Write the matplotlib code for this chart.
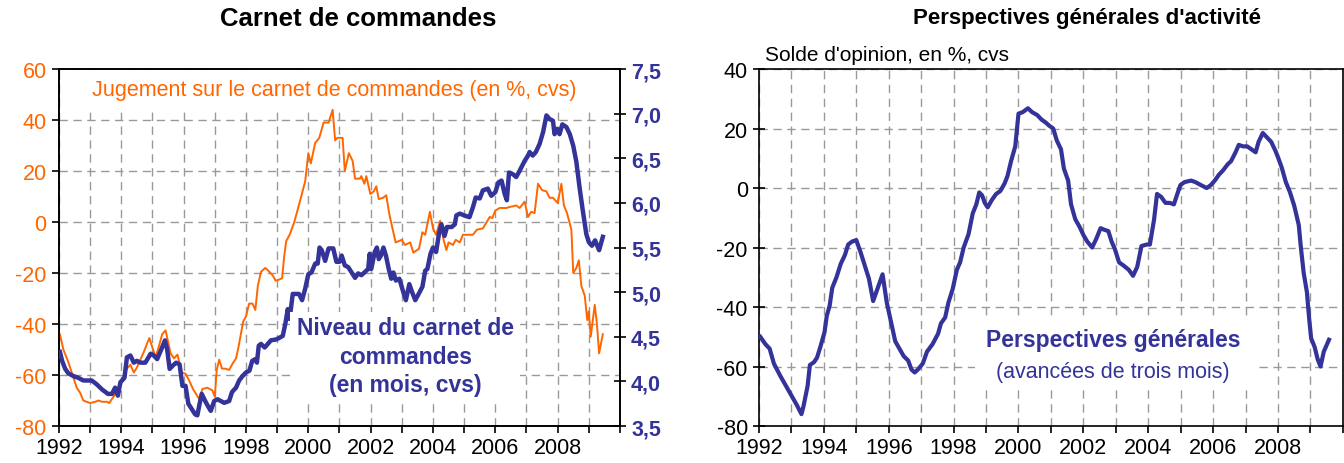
import matplotlib
matplotlib.use('Agg')
from matplotlib import pyplot as plt
from matplotlib.patches import Rectangle
from matplotlib.ticker import MultipleLocator, FuncFormatter

plt.rcParams['font.family'] = ['Liberation Sans', 'DejaVu Sans']
plt.rcParams['axes.unicode_minus'] = False

ORANGE = '#FF6600'
BLEU = '#333399'

# Jugement sur le carnet de commandes (en %, cvs) - axe gauche
dates_jugement = [
    1992.03, 1992.14, 1992.30, 1992.46, 1992.57, 1992.68, 1992.78, 1993.00, 1993.16, 1993.27,
    1993.38, 1993.54, 1993.61, 1993.75, 1993.91, 1994.02, 1994.18, 1994.29, 1994.40, 1994.50,
    1994.61, 1994.72, 1994.83, 1994.90, 1994.99, 1995.10, 1995.20, 1995.31, 1995.42, 1995.50,
    1995.58, 1995.69, 1995.80, 1995.94, 1996.06, 1996.17, 1996.30, 1996.40, 1996.50, 1996.60,
    1996.76, 1996.92, 1997.00, 1997.06, 1997.14, 1997.23, 1997.33, 1997.46, 1997.57, 1997.68,
    1997.76, 1997.85, 1997.91, 1998.00, 1998.10, 1998.21, 1998.30, 1998.38, 1998.48, 1998.62,
    1998.75, 1998.86, 1998.95, 1999.08, 1999.16, 1999.22, 1999.29, 1999.40, 1999.55, 1999.75,
    1999.90, 2000.00, 2000.08, 2000.22, 2000.35, 2000.49, 2000.65, 2000.78, 2000.86, 2000.93,
    2001.10, 2001.17, 2001.30, 2001.42, 2001.50, 2001.65, 2001.70, 2001.80, 2001.86, 2001.99,
    2002.10, 2002.18, 2002.26, 2002.40, 2002.50, 2002.60, 2002.70, 2002.80, 2003.00, 2003.10,
    2003.27, 2003.37, 2003.55, 2003.66, 2003.75, 2003.90, 2004.00, 2004.10, 2004.23, 2004.34,
    2004.43, 2004.50, 2004.64, 2004.73, 2004.86, 2004.96, 2005.28, 2005.41, 2005.60, 2005.70,
    2005.82, 2005.90, 2006.00, 2006.14, 2006.35, 2006.50, 2006.67, 2006.78, 2006.94, 2007.05,
    2007.15, 2007.26, 2007.37, 2007.50, 2007.64, 2007.74, 2007.85, 2008.00, 2008.12, 2008.20,
    2008.30, 2008.44, 2008.50, 2008.60, 2008.68, 2008.76, 2008.87, 2008.95, 2009.00, 2009.06,
    2009.19, 2009.26, 2009.33, 2009.45,
]
jugement = [
    -44, -50, -55, -61, -65, -67, -70, -71, -70.5, -70,
    -70.5, -70.5, -71, -68.5, -65.5, -62, -57.5, -56, -59, -57,
    -54, -51, -47.5, -45.5, -49, -53, -49, -44, -42.5, -47,
    -51.5, -53.5, -52, -59, -59.5, -62, -65.5, -67.5, -69.5, -65.5,
    -65, -66, -68.5, -58, -54, -57.5, -57.5, -58, -55.5, -53.5,
    -49, -43, -39, -37, -32, -32, -34.5, -25, -19.5, -18,
    -19.5, -21, -23, -22.5, -22, -14, -7.5, -5, 0, 9,
    16, 27, 23, 31, 33, 39, 39, 44, 32, 33,
    33, 20, 27, 24, 17, 17, 18, 15, 18, 11,
    12, 14, 9, 9.5, 10.5, 3, -2.5, -8, -7, -9,
    -8, -12, -10.5, -4, -5, 4, -2.5, -5, 0.5, -7,
    -11, -8, -9, -7, -8, -5, -5, -3, -2.5, -0.5,
    2, 1.5, 4.5, 5.5, 5.5, 6, 6.5, 5.5, 8, 2,
    4, 3.5, 15, 12.5, 12, 9.5, 9.5, 7.5, 15, 6.5,
    3.5, -3, -20, -18, -15, -25, -29, -38.5, -35, -45,
    -32.5, -40, -51.5, -44,
]

# Niveau du carnet de commandes (en mois, cvs) - axe droit
dates_niveau = [
    1992.03, 1992.10, 1992.20, 1992.30, 1992.46, 1992.62, 1992.78, 1993.05, 1993.20, 1993.38,
    1993.57, 1993.70, 1993.80, 1993.89, 1993.97, 1994.10, 1994.18, 1994.29, 1994.40, 1994.50,
    1994.61, 1994.77, 1994.94, 1995.04, 1995.15, 1995.26, 1995.40, 1995.47, 1995.55, 1995.66,
    1995.76, 1995.87, 1995.96, 1996.06, 1996.15, 1996.26, 1996.37, 1996.44, 1996.50, 1996.58,
    1996.69, 1996.80, 1996.87, 1996.98, 1997.09, 1997.19, 1997.30, 1997.46, 1997.55, 1997.68,
    1997.78, 1997.89, 1998.00, 1998.11, 1998.20, 1998.30, 1998.35, 1998.41, 1998.48, 1998.60,
    1998.70, 1998.80, 1998.97, 1999.08, 1999.18, 1999.27, 1999.34, 1999.40, 1999.50, 1999.60,
    1999.70, 1999.80, 1999.90, 2000.00, 2000.10, 2000.22, 2000.30, 2000.36, 2000.43, 2000.54,
    2000.65, 2000.80, 2000.90, 2001.00, 2001.07, 2001.17, 2001.28, 2001.39, 2001.50, 2001.60,
    2001.70, 2001.80, 2001.92, 2001.97, 2002.02, 2002.13, 2002.20, 2002.26, 2002.33, 2002.41,
    2002.49, 2002.58, 2002.66, 2002.73, 2002.81, 2002.92, 2003.03, 2003.13, 2003.24, 2003.33,
    2003.43, 2003.54, 2003.66, 2003.75, 2003.82, 2003.92, 2004.00, 2004.10, 2004.19, 2004.27,
    2004.37, 2004.45, 2004.60, 2004.70, 2004.75, 2004.86, 2005.00, 2005.17, 2005.28, 2005.37,
    2005.50, 2005.60, 2005.76, 2005.87, 2006.00, 2006.10, 2006.20, 2006.30, 2006.37, 2006.44,
    2006.57, 2006.67, 2006.78, 2006.94, 2007.05, 2007.10, 2007.20, 2007.30, 2007.42, 2007.53,
    2007.64, 2007.74, 2007.85, 2007.90, 2007.98, 2008.06, 2008.15, 2008.28, 2008.39, 2008.50,
    2008.60, 2008.70, 2008.80, 2008.92, 2009.00, 2009.10, 2009.20, 2009.33, 2009.45,
]
niveau = [
    4.33, 4.23, 4.14, 4.09, 4.06, 4.04, 4.01, 4.01, 3.97, 3.91,
    3.86, 3.86, 3.93, 3.84, 3.99, 4.04, 4.27, 4.29, 4.21, 4.23,
    4.21, 4.21, 4.31, 4.29, 4.25, 4.34, 4.46, 4.36, 4.14, 4.18,
    4.21, 4.19, 3.95, 3.95, 3.75, 3.69, 3.63, 3.62, 3.73, 3.86,
    3.78, 3.71, 3.67, 3.78, 3.80, 3.78, 3.76, 3.78, 3.88, 3.93,
    4.01, 4.06, 4.10, 4.12, 4.23, 4.25, 4.21, 4.40, 4.42, 4.38,
    4.42, 4.46, 4.47, 4.49, 4.51, 4.66, 4.81, 4.70, 4.98, 4.98,
    4.98, 4.91, 5.04, 5.20, 5.22, 5.32, 5.32, 5.50, 5.47, 5.35,
    5.49, 5.49, 5.34, 5.34, 5.41, 5.30, 5.28, 5.22, 5.16, 5.21,
    5.19, 5.22, 5.26, 5.43, 5.26, 5.45, 5.50, 5.37, 5.41, 5.50,
    5.41, 5.26, 5.15, 5.22, 5.13, 5.15, 5.02, 4.91, 5.09, 5.00,
    4.91, 4.98, 5.06, 5.24, 5.26, 5.43, 5.50, 5.45, 5.65, 5.76,
    5.63, 5.73, 5.73, 5.76, 5.86, 5.88, 5.86, 5.84, 5.95, 6.06,
    6.05, 6.14, 6.16, 6.08, 6.12, 6.23, 6.25, 6.10, 6.03, 6.34,
    6.32, 6.29, 6.36, 6.47, 6.53, 6.57, 6.53, 6.57, 6.66, 6.79,
    6.98, 6.94, 6.92, 6.77, 6.83, 6.77, 6.88, 6.85, 6.77, 6.64,
    6.46, 6.18, 5.93, 5.65, 5.56, 5.52, 5.58, 5.47, 5.62,
]

# Perspectives générales d'activité (solde d'opinion, en %, cvs)
dates_perspectives = [
    1992.04, 1992.20, 1992.33, 1992.46, 1992.65, 1992.78, 1992.91, 1993.04, 1993.17, 1993.31,
    1993.37, 1993.50, 1993.57, 1993.70, 1993.79, 1993.89, 1994.02, 1994.09, 1994.18, 1994.26,
    1994.39, 1994.52, 1994.65, 1994.75, 1994.87, 1995.00, 1995.13, 1995.26, 1995.39, 1995.52,
    1995.65, 1995.81, 1995.94, 1996.07, 1996.20, 1996.33, 1996.46, 1996.60, 1996.70, 1996.80,
    1996.90, 1997.05, 1997.18, 1997.35, 1997.52, 1997.61, 1997.74, 1997.84, 1997.97, 1998.10,
    1998.20, 1998.31, 1998.46, 1998.59, 1998.70, 1998.79, 1998.88, 1998.96, 1999.05, 1999.18,
    1999.31, 1999.44, 1999.57, 1999.66, 1999.77, 1999.90, 2000.00, 2000.13, 2000.29, 2000.42,
    2000.58, 2000.71, 2000.84, 2000.94, 2001.07, 2001.18, 2001.31, 2001.40, 2001.53, 2001.62,
    2001.75, 2001.88, 2002.01, 2002.12, 2002.27, 2002.40, 2002.53, 2002.64, 2002.77, 2002.87,
    2002.97, 2003.10, 2003.23, 2003.40, 2003.53, 2003.66, 2003.79, 2003.95, 2004.05, 2004.18,
    2004.27, 2004.40, 2004.53, 2004.66, 2004.79, 2004.88, 2004.99, 2005.12, 2005.32, 2005.45,
    2005.62, 2005.80, 2005.93, 2006.05, 2006.18, 2006.31, 2006.45, 2006.55, 2006.69, 2006.79,
    2006.92, 2007.05, 2007.18, 2007.31, 2007.40, 2007.53, 2007.66, 2007.79, 2007.92, 2008.01,
    2008.11, 2008.24, 2008.37, 2008.50, 2008.64, 2008.70, 2008.79, 2008.89, 2008.96, 2009.02,
    2009.13, 2009.22, 2009.31, 2009.41, 2009.57,
]
perspectives = [
    -50, -52.5, -54, -59, -63, -65.5, -68, -70.5, -73, -76,
    -73.5, -66.5, -59.5, -58.5, -57, -53.5, -48.5, -43, -39.5, -33.5,
    -30, -25.5, -22.5, -19, -18, -17.5, -21.5, -26, -30.5, -38,
    -34, -29, -38.5, -45, -51.5, -54, -56.5, -58, -61, -62,
    -61, -59, -55, -52.5, -49, -45.5, -43.5, -38.5, -34, -27.5,
    -25, -20, -15.5, -8.5, -5.5, -1.5, -2.5, -5, -6.5, -4,
    -2, -1, 1.5, 4, 9, 14, 25, 25.5, 26.8, 25.5,
    24.5, 23, 22, 21, 20, 16, 13, 6.5, 2.5, -5.5,
    -10.5, -13, -16, -18, -20, -17, -13.5, -14, -14.5, -18,
    -20.5, -25, -26, -27.5, -29.5, -26.5, -19.5, -19, -19, -10.5,
    -2, -3, -5, -5, -5.5, -2.5, 1, 2, 2.5, 2,
    1, 0, 1, 2.5, 4.5, 6, 8, 9, 12, 14.5,
    14, 14, 13, 12, 15.5, 18.5, 17, 15.5, 12.5, 10,
    7, 2, -1.5, -6, -12.5, -19.5, -28.5, -35, -44, -50.5,
    -53.5, -57.5, -60, -55, -51,
]

annees_labels = [1992, 1994, 1996, 1998, 2000, 2002, 2004, 2006, 2008]

fig = plt.figure(figsize=(13.44, 4.64), dpi=100)

def habiller_axe_x(ax):
    ax.set_xlim(1992, 2010)
    ax.set_xticks(range(1992, 2011))
    ax.set_xticklabels([str(a) if a in annees_labels else '' for a in range(1992, 2011)])
    ax.grid(True, axis='both', linestyle=(0, (6, 4)), color='#999999', linewidth=1)
    ax.set_axisbelow(True)
    ax.tick_params(axis='x', direction='out', length=5, width=1.2, labelsize=15.5, pad=3)
    for s in ax.spines.values():
        s.set_linewidth(1.2)

def cache_blanc(ax, x0, y0, x1, y1, z):
    # fond blanc des étiquettes (masque la grille comme dans l'original)
    ax.add_patch(Rectangle((x0, y0), x1 - x0, y1 - y0, transform=ax.transAxes,
                           facecolor='white', edgecolor='none', zorder=z))

# ---- graphique de gauche ----
ax1 = fig.add_axes([0.0439, 0.0797, 0.4174, 0.7694])
ax1.plot(dates_jugement, jugement, color=ORANGE, linewidth=1.4, zorder=3)
ax1.set_ylim(-80, 60)
ax1.yaxis.set_major_locator(MultipleLocator(20))
habiller_axe_x(ax1)
ax1.tick_params(axis='y', direction='out', length=5, width=1.2, labelsize=15.5,
                labelcolor=ORANGE, pad=4)
cache_blanc(ax1, 0.004, 0.888, 0.996, 0.997, 1)

ax2 = ax1.twinx()
ax2.plot(dates_niveau, niveau, color=BLEU, linewidth=3.2, zorder=3)
ax2.set_ylim(3.5, 7.5)
ax2.yaxis.set_major_locator(MultipleLocator(0.5))
ax2.yaxis.set_major_formatter(FuncFormatter(lambda v, p: f'{v:.1f}'.replace('.', ',')))
ax2.tick_params(axis='y', direction='inout', length=8, width=1.2, labelsize=15.5,
                labelcolor=BLEU, pad=4)
for lab in ax2.get_yticklabels():
    lab.set_fontweight('bold')
for s in ax2.spines.values():
    s.set_linewidth(1.2)
cache_blanc(ax2, 0.412, 0.076, 0.822, 0.319, 4)

ax1.text(0.49, 0.944, 'Jugement sur le carnet de commandes (en %, cvs)',
         transform=ax1.transAxes, ha='center', va='center', color=ORANGE, fontsize=15.5,
         zorder=4)
ax2.text(0.617, 0.196, 'Niveau du carnet de\ncommandes\n(en mois, cvs)',
         transform=ax2.transAxes, ha='center', va='center', color=BLEU, fontsize=16.5,
         fontweight='bold', linespacing=1.3, zorder=5)

fig.text(0.2664, 0.959, 'Carnet de commandes', ha='center', va='center',
         fontsize=18.5, fontweight='bold')

# ---- graphique de droite ----
ax3 = fig.add_axes([0.5647, 0.0797, 0.4345, 0.7694])
ax3.plot(dates_perspectives, perspectives, color=BLEU, linewidth=3, zorder=3)
ax3.set_ylim(-80, 40)
ax3.yaxis.set_major_locator(MultipleLocator(20))
habiller_axe_x(ax3)
ax3.tick_params(axis='y', direction='inout', length=8, width=1.2, labelsize=15.5, pad=4)
cache_blanc(ax3, 0.37, 0.104, 0.853, 0.305, 1)

ax3.text(0.606, 0.241, 'Perspectives générales', transform=ax3.transAxes,
         ha='center', va='center', color=BLEU, fontsize=16.5, fontweight='bold', zorder=4)
ax3.text(0.606, 0.154, '(avancées de trois mois)', transform=ax3.transAxes,
         ha='center', va='center', color=BLEU, fontsize=15.5, zorder=4)

fig.text(0.809, 0.961, "Perspectives générales d'activité", ha='center', va='center',
         fontsize=16, fontweight='bold')
fig.text(0.569, 0.881, "Solde d'opinion, en %, cvs", ha='left', va='center', fontsize=15)

fig.savefig('out.png', dpi=100)
